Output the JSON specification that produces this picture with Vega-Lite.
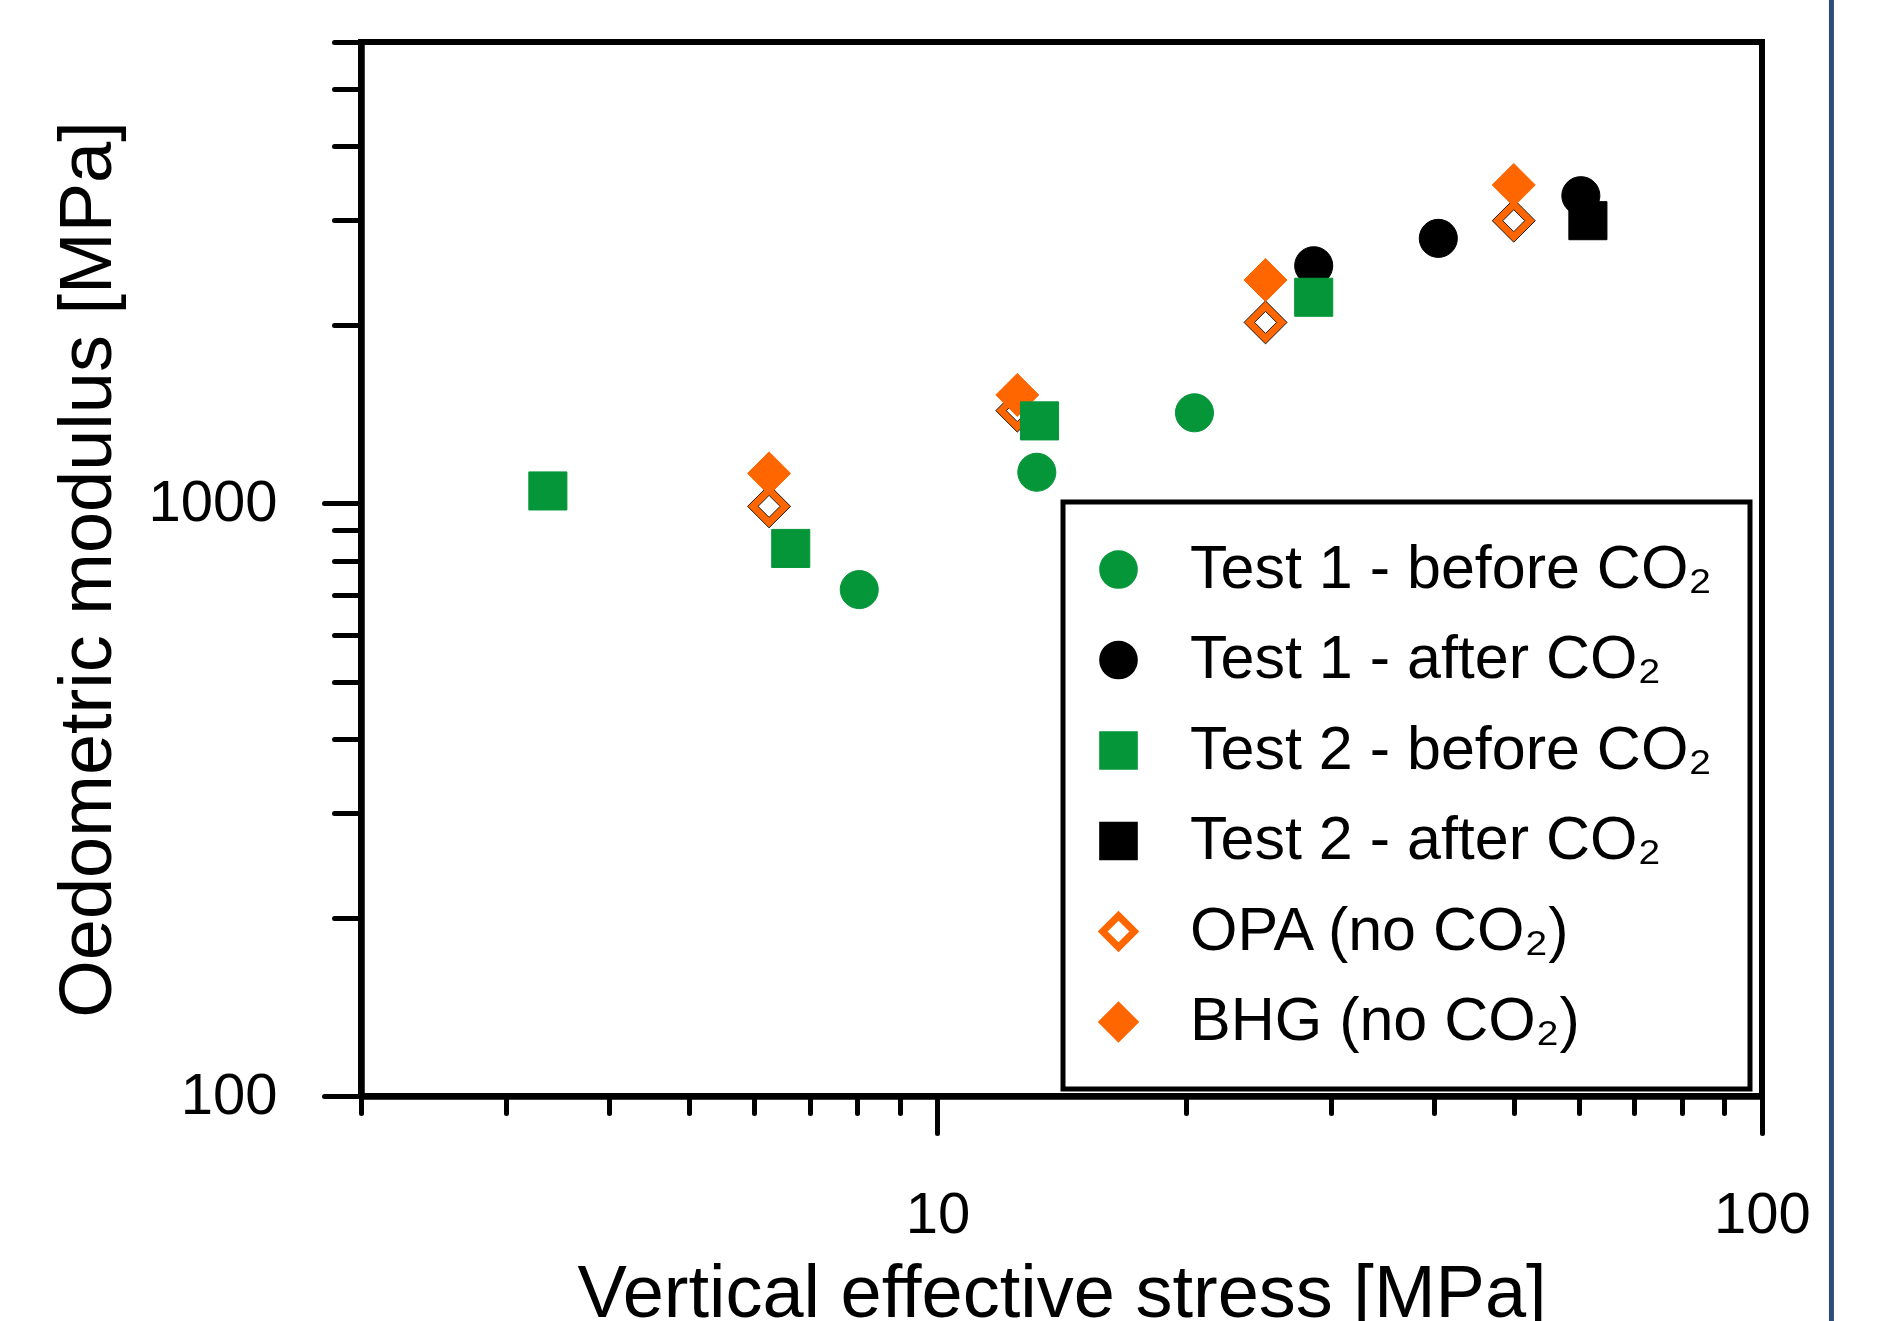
{
  "$schema": "https://vega.github.io/schema/vega-lite/v6.json",
  "width": 1401,
  "height": 1054,
  "autosize": {"type": "none"},
  "padding": {"left": 361, "top": 42, "right": 128, "bottom": 225},
  "background": "white",
  "config": {
    "view": {"stroke": "black", "strokeWidth": 6},
    "font": "Liberation Sans",
    "legend": {"strokeWidth": 5},
    "axis": {
      "grid": false,
      "domainColor": "black",
      "domainWidth": 6.5,
      "tickColor": "black",
      "tickWidth": 5,
      "tickCap": "round",
      "labelColor": "black",
      "labelFont": "Liberation Sans",
      "labelFontSize": 58,
      "labelFlush": false,
      "labelOverlap": false,
      "titleColor": "black",
      "titleFont": "Liberation Sans",
      "titleFontSize": 74,
      "titleFontWeight": "normal"
    }
  },
  "resolve": {"axis": {"x": "independent", "y": "independent"}},
  "data": {
    "values": [
      {"series": "OPA (no CO₂)", "stress": 6.25, "modulus": 988},
      {"series": "OPA (no CO₂)", "stress": 12.5, "modulus": 1433},
      {"series": "OPA (no CO₂)", "stress": 25, "modulus": 2019},
      {"series": "OPA (no CO₂)", "stress": 50, "modulus": 2997},
      {"series": "BHG (no CO₂)", "stress": 6.25, "modulus": 1123},
      {"series": "BHG (no CO₂)", "stress": 12.5, "modulus": 1523},
      {"series": "BHG (no CO₂)", "stress": 25, "modulus": 2380},
      {"series": "BHG (no CO₂)", "stress": 50, "modulus": 3443},
      {"series": "Test 1 - before CO₂", "stress": 8.04, "modulus": 715},
      {"series": "Test 1 - before CO₂", "stress": 13.2, "modulus": 1128},
      {"series": "Test 1 - before CO₂", "stress": 20.5, "modulus": 1421},
      {"series": "Test 1 - after CO₂", "stress": 28.6, "modulus": 2516},
      {"series": "Test 1 - after CO₂", "stress": 40.5, "modulus": 2798},
      {"series": "Test 1 - after CO₂", "stress": 60.3, "modulus": 3303},
      {"series": "Test 2 - before CO₂", "stress": 3.37, "modulus": 1049},
      {"series": "Test 2 - before CO₂", "stress": 6.64, "modulus": 839},
      {"series": "Test 2 - before CO₂", "stress": 13.3, "modulus": 1377},
      {"series": "Test 2 - before CO₂", "stress": 28.6, "modulus": 2226},
      {"series": "Test 2 - after CO₂", "stress": 61.5, "modulus": 2997}
    ]
  },
  "layer": [
    {
      "transform": [{"filter": "datum.series === 'OPA (no CO₂)'"}],
      "mark": {"type": "point", "shape": "diamond", "filled": true, "fill": "#FF6600", "stroke": "#1e1e1e", "strokeWidth": 1, "opacity": 1, "size": 1850},
      "encoding": {
        "x": {
          "field": "stress", "type": "quantitative",
          "scale": {"type": "log", "domain": [2, 100], "nice": false},
          "axis": {
            "orient": "bottom",
            "title": null,
            "values": [2, 3, 4, 5, 6, 7, 8, 9, 20, 30, 40, 50, 60, 70, 80, 90],
            "labels": false,
            "domain": false,
            "tickSize": 17
          }
        },
        "y": {
          "field": "modulus", "type": "quantitative",
          "scale": {"type": "log", "domain": [100, 6000], "nice": false},
          "axis": {
            "orient": "left",
            "title": null,
            "values": [200, 300, 400, 500, 600, 700, 800, 900, 2000, 3000, 4000, 5000, 6000],
            "labels": false,
            "domain": false,
            "tickSize": 27
          }
        }
      }
    },
    {
      "transform": [{"filter": "datum.series === 'OPA (no CO₂)'"}],
      "mark": {"type": "point", "shape": "diamond", "filled": true, "fill": "white", "stroke": "#1e1e1e", "strokeWidth": 1, "opacity": 1, "size": 484},
      "encoding": {
        "x": {"field": "stress", "type": "quantitative",
          "axis": {
            "orient": "bottom",
            "title": "Vertical effective stress [MPa]",
            "values": [10, 100],
            "labelExpr": "datum.value == 10 ? '10' : '100'",
            "tickSize": 37,
            "labelPadding": 53,
            "titlePadding": 14
          }},
        "y": {"field": "modulus", "type": "quantitative",
          "axis": {
            "orient": "left",
            "title": "Oedometric modulus [MPa]",
            "values": [100, 1000],
            "labelExpr": "datum.value == 100 ? '100' : '1000'",
            "tickSize": 37,
            "labelPadding": 47,
            "titlePadding": 35
          }}
      }
    },
    {
      "transform": [{"filter": "datum.series !== 'OPA (no CO₂)'"}],
      "mark": {"type": "point", "filled": true, "opacity": 1, "strokeWidth": 1},
      "encoding": {
        "x": {"field": "stress", "type": "quantitative", "axis": null},
        "y": {"field": "modulus", "type": "quantitative", "axis": null},
        "shape": {"field": "series", "type": "nominal",
          "scale": {"domain": ["Test 1 - before CO₂", "Test 1 - after CO₂", "Test 2 - before CO₂", "Test 2 - after CO₂", "OPA (no CO₂)", "BHG (no CO₂)"],
                    "range": ["circle", "circle", "square", "square", "diamond", "diamond"]}},
        "fill": {"field": "series", "type": "nominal",
          "scale": {"domain": ["Test 1 - before CO₂", "Test 1 - after CO₂", "Test 2 - before CO₂", "Test 2 - after CO₂", "OPA (no CO₂)", "BHG (no CO₂)"],
                    "range": ["#06963A", "#000000", "#06963A", "#000000", "#FFFFFF", "#FF6600"]},
          "legend": {
            "title": null,
            "orient": "none",
            "legendX": 702,
            "legendY": 460,
            "padding": 37,
            "rowPadding": 28.5,
            "labelFont": "Liberation Sans",
            "labelFontSize": 61,
            "labelColor": "black",
            "labelLimit": 0,
            "labelOffset": 41,
            "symbolOffset": -12,
            "strokeColor": "black",
            "fillColor": "white",
            "symbolSize": 1000,
            "symbolStrokeWidth": 7,
            "symbolOpacity": 1
          }},
        "stroke": {"field": "series", "type": "nominal",
          "scale": {"domain": ["Test 1 - before CO₂", "Test 1 - after CO₂", "Test 2 - before CO₂", "Test 2 - after CO₂", "OPA (no CO₂)", "BHG (no CO₂)"],
                    "range": ["#06963A", "#000000", "#06963A", "#000000", "#FF6600", "#FF6600"]}},
        "size": {"condition": {"test": "indexof(datum.series, 'no CO') >= 0", "value": 1850},
                 "value": 1450}
      }
    },
    {
      "data": {"values": [{"edge": 121.4, "top": 8000, "bottom": 30}]},
      "mark": {"type": "rule", "color": "#2F4B7C", "strokeWidth": 5, "clip": false},
      "encoding": {
        "x": {"field": "edge", "type": "quantitative", "axis": null},
        "y": {"field": "top", "type": "quantitative", "axis": null},
        "y2": {"field": "bottom"}
      }
    }
  ]
}
